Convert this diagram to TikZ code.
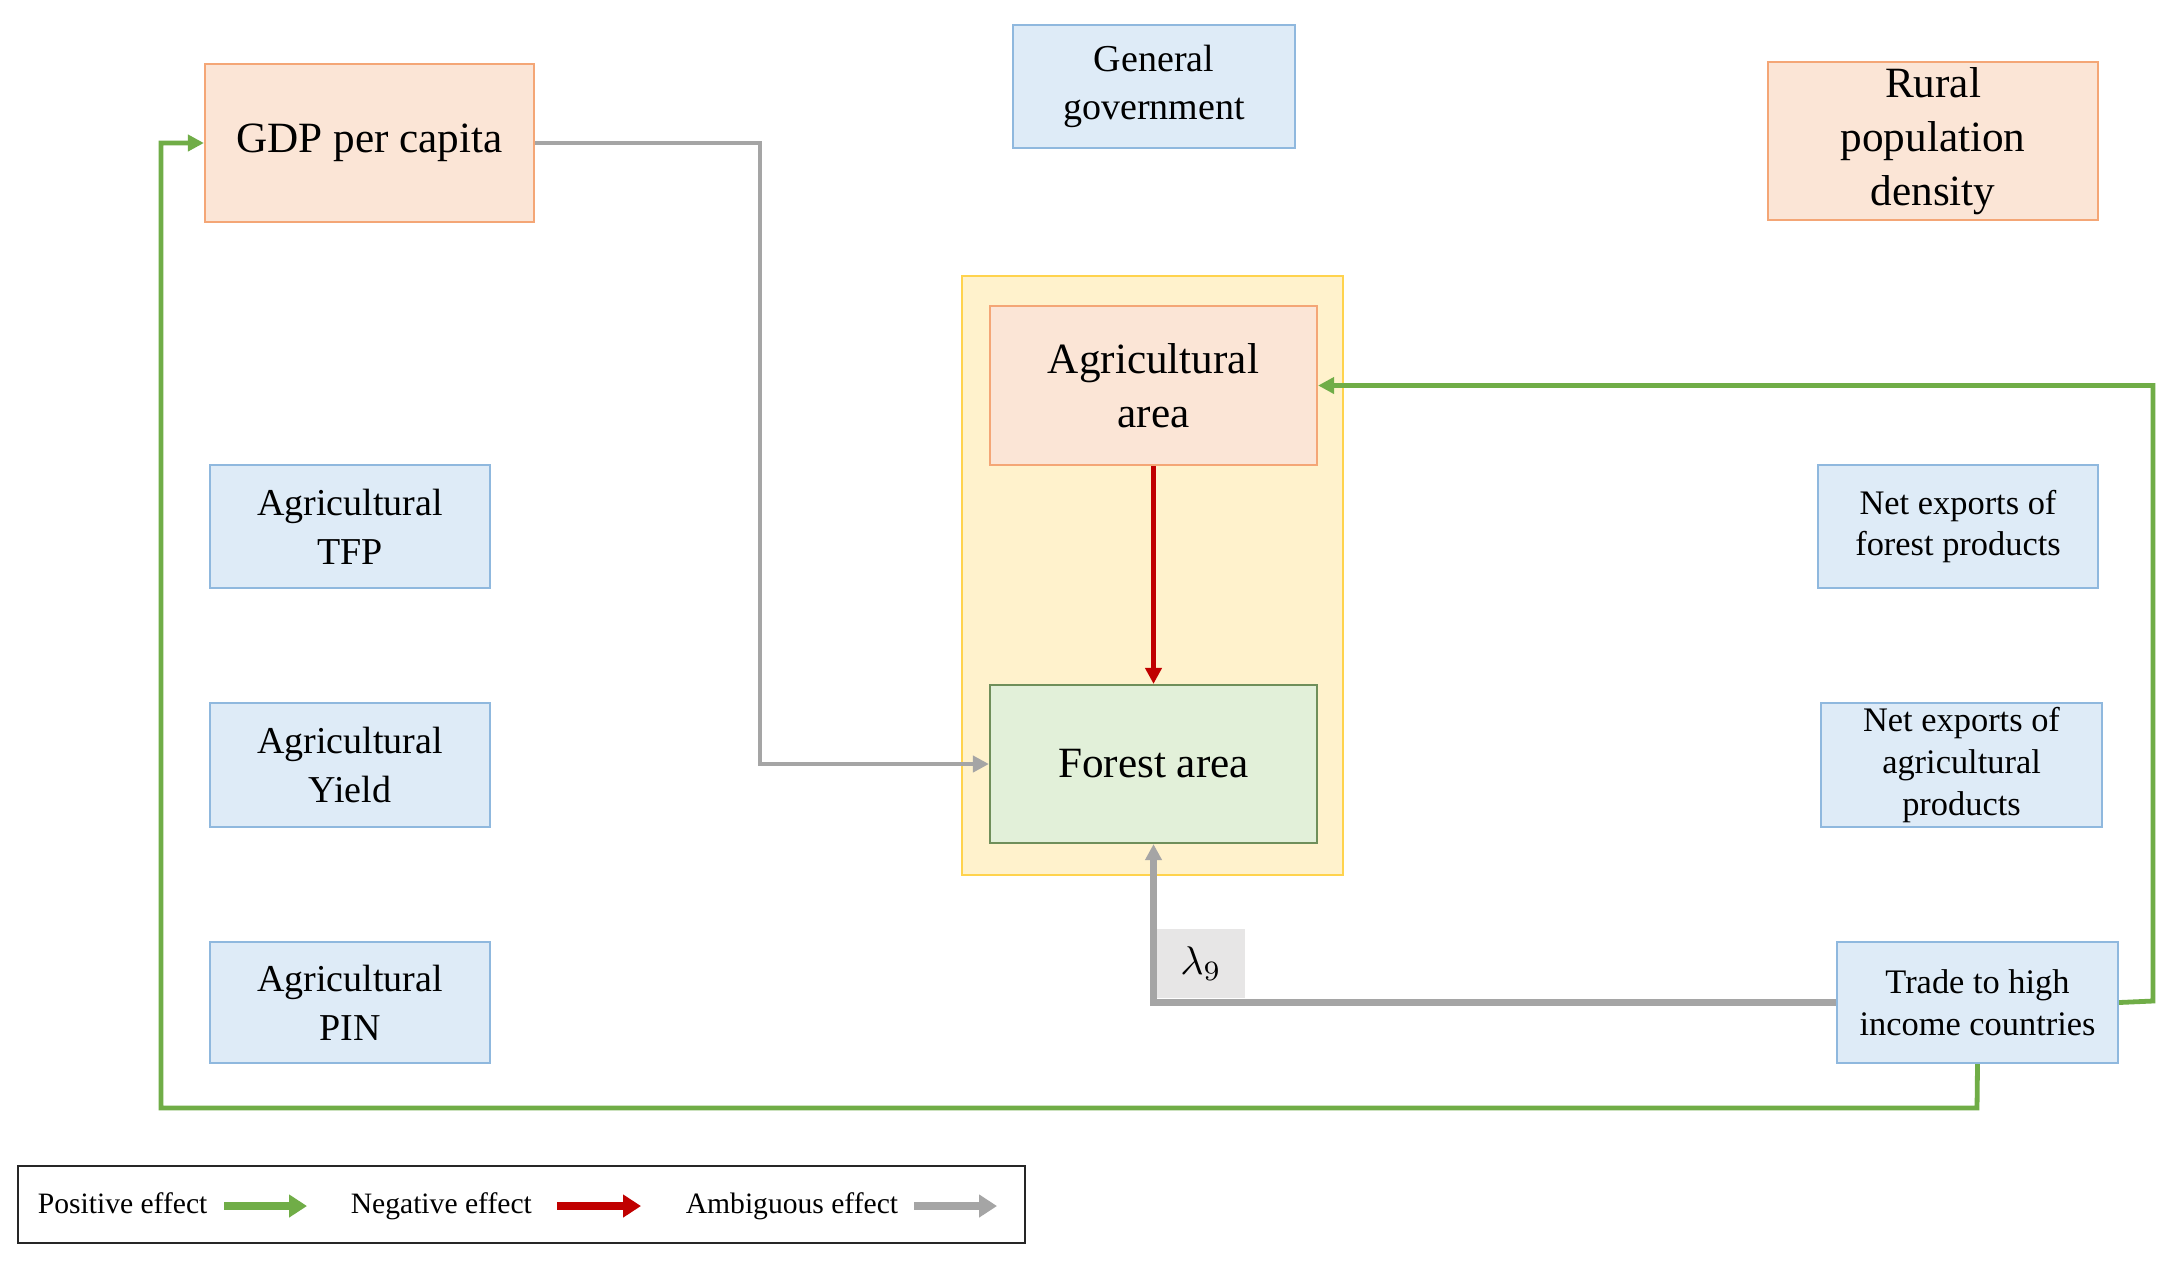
\documentclass[tikz,border=0pt]{standalone}
\usepackage{fontspec}
\setmainfont{Liberation Serif}
\usetikzlibrary{arrows.meta}
\definecolor{orfill}{HTML}{FBE5D6}
\definecolor{ordraw}{HTML}{F4A676}
\definecolor{blfill}{HTML}{DEEBF7}
\definecolor{bldraw}{HTML}{8FB8DE}
\definecolor{grfill}{HTML}{E2F0D9}
\definecolor{grdraw}{HTML}{6F8F5A}
\definecolor{yefill}{HTML}{FFF2CC}
\definecolor{yedraw}{HTML}{FFD34D}
\definecolor{posc}{HTML}{70AD47}
\definecolor{negc}{HTML}{C00000}
\definecolor{ambc}{HTML}{A5A5A5}
\definecolor{lamfill}{HTML}{E7E6E6}
\tikzset{
  box/.style={draw, line width=0.55pt, align=center, inner sep=0pt},
  orbox/.style={box, fill=orfill, draw=ordraw},
  blbox/.style={box, fill=blfill, draw=bldraw},
  grbox/.style={box, fill=grfill, draw=grdraw},
  bigtext/.style={font=\fontsize{10.8}{13.5}\selectfont},
  midtext/.style={font=\fontsize{9.5}{12.2}\selectfont},
  smalltext/.style={font=\fontsize{8.6}{10.4}\selectfont},
  legtext/.style={font=\fontsize{7.4}{9}\selectfont, anchor=base west, inner sep=0pt},
  conn/.style={line width=1.2pt, -{Triangle[length=4pt,width=4pt]}},
  posarrow/.style={conn, draw=posc},
  negarrow/.style={conn, draw=negc},
  ambarrow/.style={conn, draw=ambc},
  legarrow/.style={line width=1.8pt, -{Triangle[length=4.5pt,width=5.5pt]}},
}
\begin{document}
\begin{tikzpicture}[x=0.25pt, y=-0.25pt]
\useasboundingbox (0,0) rectangle (2171,1266);
\fill[white] (0,0) rectangle (2171,1266);

% central yellow frame
\node[box, fill=yefill, draw=yedraw, minimum width=95.25pt, minimum height=149.75pt] (frame) at (1152.5,575.5) {};

% boxes
\node[orbox, bigtext, minimum width=82.25pt, minimum height=39.5pt] (gdp) at (369.5,143) {GDP per capita};
\node[blbox, midtext, minimum width=70.5pt, minimum height=30.75pt] (gov) at (1154,86.5) {General\\government};
\node[orbox, bigtext, minimum width=82.5pt, minimum height=39.5pt] (rural) at (1933,141) {Rural\\population\\density};
\node[orbox, bigtext, minimum width=81.75pt, minimum height=39.75pt] (agarea) at (1153.5,385.5) {Agricultural\\area};
\node[grbox, bigtext, minimum width=81.75pt, minimum height=39.5pt] (forest) at (1153.5,764) {Forest area};
\node[blbox, midtext, minimum width=70pt, minimum height=30.75pt] (tfp) at (350,526.5) {Agricultural\\TFP};
\node[blbox, midtext, minimum width=70pt, minimum height=31pt] (yield) at (350,765) {Agricultural\\Yield};
\node[blbox, midtext, minimum width=70pt, minimum height=30.25pt] (pin) at (350,1002.5) {Agricultural\\PIN};
\node[blbox, smalltext, minimum width=70pt, minimum height=30.75pt] (nexf) at (1958,526.5) {Net exports of\\forest products};
\node[blbox, smalltext, minimum width=70.25pt, minimum height=31pt] (nexa) at (1961.5,765) {Net exports of\\agricultural\\products};
\node[blbox, smalltext, minimum width=70.25pt, minimum height=30.25pt] (trade) at (1977.5,1002.5) {Trade to high\\income countries};

% lambda label
\node[fill=lamfill, minimum width=22pt, minimum height=17.25pt, inner sep=0pt, font=\fontsize{10}{12}\selectfont] (lam) at (1201,963.5) {$\lambda_9$};

% connectors
\coordinate (gdpturn) at (760,143);
\draw[ambarrow, line width=1.1pt] (gdp.east) -- (gdpturn) |- (forest.west);
\draw[negarrow] (agarea.south) -- (forest.north);
\draw[ambarrow, line width=1.6pt] (trade.west) -| (forest.south);
\coordinate (rightx) at (2153,1001);
\draw[posarrow] (trade.east) -- (rightx) |- (agarea.east);
\coordinate (bottomy) at (1977,1108);
\coordinate (leftx) at (161,1108);
\draw[posarrow] (trade.south) -- (bottomy) -- (leftx) |- (gdp.west);

% legend
\node[draw=black!85, line width=0.6pt, minimum width=251.75pt, minimum height=19.25pt, inner sep=0pt] (legend) at (521.5,1204.5) {};
\node[legtext] (lpos) at (37,1213) {Positive effect};
\node[legtext] (lneg) at (350,1213) {Negative effect};
\node[legtext] (lamb) at (685,1213) {Ambiguous effect};
\coordinate (pa) at (224,1206); \coordinate (pb) at (307,1206);
\coordinate (na) at (557,1206); \coordinate (nb) at (641,1206);
\coordinate (aa) at (914,1206); \coordinate (ab) at (997,1206);
\draw[legarrow, draw=posc] (pa) -- (pb);
\draw[legarrow, draw=negc] (na) -- (nb);
\draw[legarrow, draw=ambc] (aa) -- (ab);
\end{tikzpicture}
\end{document}
